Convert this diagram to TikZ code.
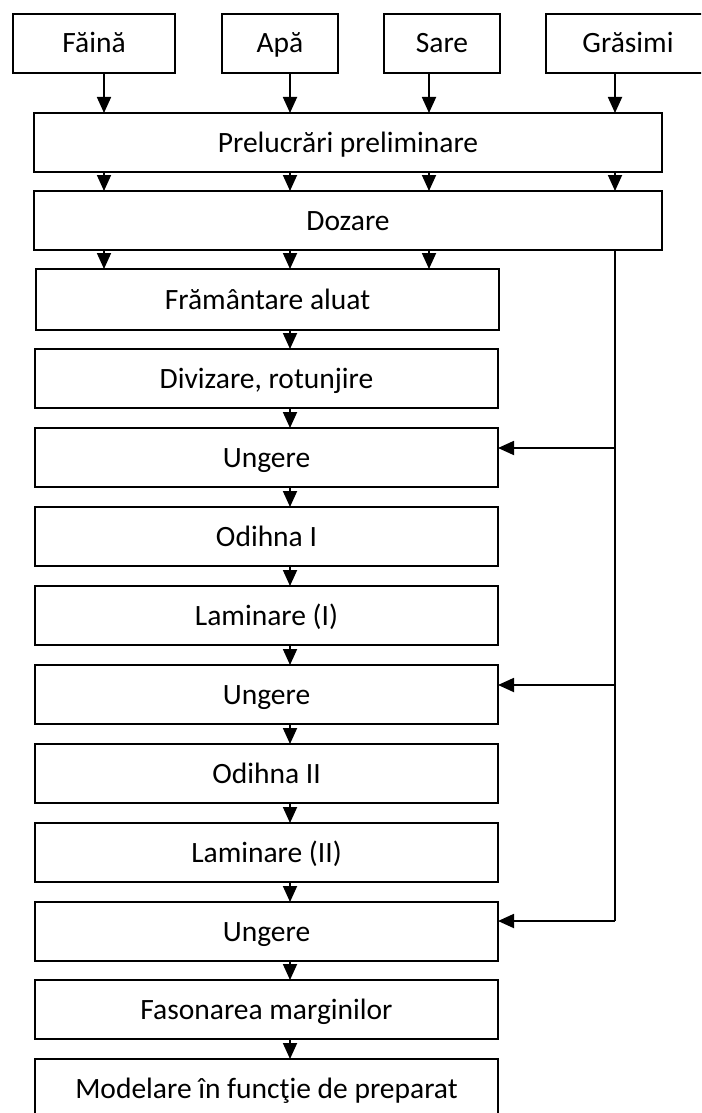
\documentclass[tikz,border=0pt]{standalone}
\usepackage{fontspec}
\setmainfont{Carlito}
\usetikzlibrary{arrows.meta}
\begin{document}
\begin{tikzpicture}[x=1pt,y=-1pt,
  box/.style={draw=black,line width=1.8pt,fill=white,rectangle,inner sep=0pt,outer sep=0pt,minimum height=59pt,
    text height=26pt,text depth=7pt,font=\fontsize{29.5}{35}\selectfont},
  topbox/.style={box},
  wide/.style={box,minimum width=628pt},
  stepbox/.style={box,minimum width=463pt},
  arr/.style={line width=1.8pt,-{Triangle[width=14pt,length=16pt]}},
  conn/.style={line width=1.8pt}]
\useasboundingbox (0,0) rectangle (701,1113);
\fill[white] (0,0) rectangle (701,1113);
\clip (0,0) rectangle (701,1113);
% top inputs
\node[topbox,minimum width=162pt] (faina) at (94,43.5) {Făină};
\node[topbox,minimum width=116pt] (apa) at (280,43.5) {Apă};
\node[topbox,minimum width=116pt] (sare) at (442,43.5) {Sare};
\node[topbox,minimum width=164pt] (gras) at (628,43.5) {Grăsimi};
\node[wide] (prel) at (348,142.5) {Prelucrări preliminare};
\node[wide] (doz) at (348,220.5) {Dozare};
\node[stepbox,minimum height=61pt] (fram) at (267.5,299.5) {Frământare aluat};
\node[stepbox] (div) at (266.5,378.5) {Divizare, rotunjire};
\node[stepbox] (ung1) at (266.5,457.5) {Ungere};
\node[stepbox] (od1) at (266.5,536.5) {Odihna I};
\node[stepbox] (lam1) at (266.5,615.5) {Laminare (I)};
\node[stepbox] (ung2) at (266.5,694.5) {Ungere};
\node[stepbox] (od2) at (266.5,773.5) {Odihna II};
\node[stepbox] (lam2) at (266.5,852.5) {Laminare (II)};
\node[stepbox] (ung3) at (266.5,931.5) {Ungere};
\node[stepbox] (fas) at (266.5,1009.5) {Fasonarea marginilor};
\node[stepbox] (mod) at (266.5,1088.5) {Modelare în funcţie de preparat};
% column positions
\coordinate (c1) at (104,0);
\coordinate (c2) at (290,0);
\coordinate (c3) at (429,0);
\coordinate (c4) at (615,0);
% inputs to Prelucrari
\draw[arr] (faina.south -| c1) -- (prel.north -| c1);
\draw[arr] (apa.south -| c2) -- (prel.north -| c2);
\draw[arr] (sare.south -| c3) -- (prel.north -| c3);
\draw[arr] (gras.south -| c4) -- (prel.north -| c4);
% Prelucrari to Dozare
\draw[arr] (prel.south -| c1) -- (doz.north -| c1);
\draw[arr] (prel.south -| c2) -- (doz.north -| c2);
\draw[arr] (prel.south -| c3) -- (doz.north -| c3);
\draw[arr] (prel.south -| c4) -- (doz.north -| c4);
% Dozare to Framantare
\draw[arr] (doz.south -| c1) -- (fram.north -| c1);
\draw[arr] (doz.south -| c2) -- (fram.north -| c2);
\draw[arr] (doz.south -| c3) -- (fram.north -| c3);
% chain
\draw[arr] (fram.south -| c2) -- (div.north -| c2);
\draw[arr] (div.south -| c2) -- (ung1.north -| c2);
\draw[arr] (ung1.south -| c2) -- (od1.north -| c2);
\draw[arr] (od1.south -| c2) -- (lam1.north -| c2);
\draw[arr] (lam1.south -| c2) -- (ung2.north -| c2);
\draw[arr] (ung2.south -| c2) -- (od2.north -| c2);
\draw[arr] (od2.south -| c2) -- (lam2.north -| c2);
\draw[arr] (lam2.south -| c2) -- (ung3.north -| c2);
\draw[arr] (ung3.south -| c2) -- (fas.north -| c2);
\draw[arr] (fas.south -| c2) -- (mod.north -| c2);
% grease branch
\coordinate (j1) at (615,448);
\coordinate (j2) at (615,685);
\coordinate (j3) at (615,921);
\draw[conn] (doz.south -| c4) -- (j3);
\draw[arr] (j1) -- (ung1.east |- j1);
\draw[arr] (j2) -- (ung2.east |- j2);
\draw[arr] (j3) -- (ung3.east |- j3);
\end{tikzpicture}
\end{document}
